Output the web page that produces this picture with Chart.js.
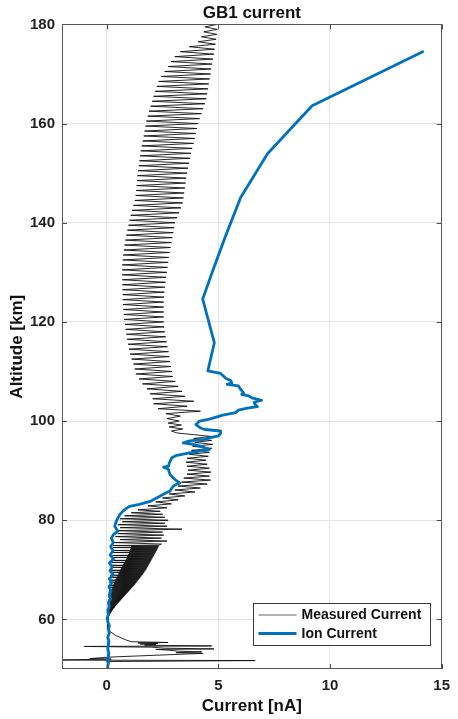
<!DOCTYPE html>
<html>
<head>
<meta charset="utf-8">
<script src="https://cdn.jsdelivr.net/npm/chart.js@4.4.1/dist/chart.umd.min.js"></script>
<style>
  html, body { margin: 0; padding: 0; background: #ffffff; }
  #c { display: block; }
</style>
</head>
<body>
<canvas id="c" width="458" height="719"></canvas>
<script>
// ---------------- DATA ----------------
const chartTitle = 'GB1 current';
const xAxisTitle = 'Current [nA]';
const yAxisTitle = 'Altitude [km]';
const seriesNames = ['Measured Current', 'Ion Current'];

const xTicks = [0, 5, 10, 15];
const yTicks = [60, 80, 100, 120, 140, 160, 180];

// Measured current (spin-modulated probe signal), altitude [km]
const measuredAltitude = [
  181, 180.5, 180, 179.5, 179, 178.5, 178, 177.5, 177, 176.5,
  176, 175.5, 175, 174.5, 174, 173.5, 173, 172.5, 172, 171.5,
  171, 170.5, 170, 169.5, 169, 168.5, 168, 167.5, 167, 166.5,
  166, 165.5, 165, 164.5, 164, 163.5, 163, 162.5, 162, 161.5,
  161, 160.5, 160, 159.5, 159, 158.5, 158, 157.5, 157, 156.5,
  156, 155.5, 155, 154.5, 154, 153.5, 153, 152.5, 152, 151.5,
  151, 150.5, 150, 149.5, 149, 148.5, 148, 147.5, 147, 146.5,
  146, 145.5, 145, 144.5, 144, 143.5, 143, 142.5, 142, 141.5,
  141, 140.5, 140, 139.5, 139, 138.5, 138, 137.5, 137, 136.5,
  136, 135.5, 135, 134.5, 134, 133.5, 133, 132.5, 132, 131.5,
  131, 130.5, 130, 129.5, 129, 128.5, 128, 127.5, 127, 126.5,
  126, 125.5, 125, 124.5, 124, 123.5, 123, 122.5, 122, 121.5,
  121, 120.5, 120, 119.5, 119, 118.5, 118, 117.5, 117, 116.5,
  116, 115.5, 115, 114.5, 114, 113.5, 113, 112.5, 112, 111.5,
  111, 110.5, 110, 109.5, 109, 108.5, 108, 107.5, 107, 106.5,
  106, 105.5, 105, 104.5, 104, 103.5, 103, 102.5, 102, 101.5,
  101, 100.5, 100,
  99.6, 99.2, 98.8, 98.4, 98.0, 97.6, 96.9, 96.5, 96.1, 95.7,
  95.3, 94.9, 94.5, 94.1, 93.7, 93.3, 92.9, 92.5, 92.1, 91.7,
  91.3, 90.9, 90.5, 90.1, 89.7, 89.3, 88.9, 88.5, 88.1, 87.7,
  87.3, 86.9, 86.5, 86.1, 85.7, 85.3, 84.9, 84.5, 84.1, 83.7,
  83.3, 82.9, 82.5, 82.1, 81.8, 81.5, 81.2, 80.9, 80.6, 80.3,
  80.0, 79.7, 79.4, 79.1, 78.8, 78.5, 78.2, 77.9, 77.6, 77.3,
  77.0, 76.7, 76.4, 76.1, 75.8, 75.5, 75.2,
  75.0, 74.9, 74.8, 74.7, 74.6, 74.5, 74.4, 74.3, 74.2, 74.1,
  74.0, 73.9, 73.8, 73.7, 73.6, 73.5, 73.4, 73.3, 73.2, 73.1,
  73.0, 72.9, 72.8, 72.7, 72.6, 72.5, 72.4, 72.3, 72.2, 72.1,
  72.0, 71.9, 71.8, 71.7, 71.6, 71.5, 71.4, 71.3, 71.2, 71.1,
  71.0, 70.9, 70.8, 70.7, 70.6, 70.5, 70.4, 70.3, 70.2, 70.1,
  70.0, 69.9, 69.8, 69.7, 69.6, 69.5, 69.4, 69.3, 69.2, 69.1,
  69.0, 68.9, 68.8, 68.7, 68.6, 68.5, 68.4, 68.3, 68.2, 68.1,
  68.0, 67.9, 67.8, 67.7, 67.6, 67.5, 67.4, 67.3, 67.2, 67.1,
  67.0, 66.9, 66.8, 66.7, 66.6, 66.5, 66.4, 66.3, 66.2, 66.1,
  66.0, 65.9, 65.8, 65.7, 65.6, 65.5, 65.4, 65.3, 65.2, 65.1,
  65.0, 64.9, 64.8, 64.7, 64.6, 64.5, 64.4, 64.3, 64.2, 64.1,
  64.0, 63.9, 63.8, 63.7, 63.6, 63.5, 63.4, 63.3, 63.2, 63.1,
  63.0, 62.9, 62.8, 62.7, 62.6, 62.5, 62.4, 62.3, 62.2, 62.1,
  62.0, 61.9, 61.8, 61.7, 61.6, 61.5, 61.4, 61.3, 61.2, 61.1,
  61.0, 60.7, 60.4,
  60.0, 59.0, 58.2, 57.5, 56.8, 56.2, 55.8, 55.5, 55.35, 55.25,
  55.15, 55.05, 54.95, 54.8, 54.65, 54.55, 54.4, 54.2, 54.05, 53.95,
  53.8, 53.6, 53.45, 53.3, 53.15, 52.4, 52.1, 52.0, 51.8, 51.7,
  51.5, 50.5, 49.5
];
// Measured current [nA]
const measuredCurrent = [
  4.95, 4.45, 4.95, 4.4, 4.95, 4.35, 4.93, 4.25, 4.9, 4.1,
  4.87, 3.7, 4.83, 3.3, 4.8, 3.05, 4.76, 2.88, 4.72, 2.75,
  4.68, 2.6, 4.65, 2.45, 4.61, 2.33, 4.57, 2.25, 4.54, 2.18,
  4.5, 2.1, 4.46, 2.04, 4.4, 1.97, 4.32, 1.9, 4.24, 1.84,
  4.16, 1.78, 4.09, 1.74, 4.04, 1.7, 3.99, 1.66, 3.94, 1.62,
  3.89, 1.57, 3.83, 1.53, 3.78, 1.5, 3.74, 1.47, 3.69, 1.44,
  3.64, 1.41, 3.6, 1.38, 3.56, 1.36, 3.53, 1.34, 3.5, 1.32,
  3.47, 1.3, 3.44, 1.26, 3.4, 1.2, 3.32, 1.14, 3.24, 1.08,
  3.15, 1.03, 3.06, 0.98, 3.02, 0.93, 2.98, 0.88, 2.94, 0.84,
  2.9, 0.8, 2.86, 0.77, 2.82, 0.74, 2.78, 0.72, 2.75, 0.7,
  2.72, 0.7, 2.69, 0.7, 2.66, 0.7, 2.63, 0.7, 2.6, 0.71,
  2.58, 0.72, 2.56, 0.72, 2.55, 0.73, 2.55, 0.75, 2.55, 0.77,
  2.55, 0.79, 2.55, 0.82, 2.57, 0.85, 2.6, 0.88, 2.64, 0.92,
  2.68, 0.96, 2.72, 1.0, 2.77, 1.05, 2.8, 1.12, 2.84, 1.2,
  2.88, 1.26, 2.92, 1.31, 2.95, 1.45, 3.07, 1.6, 3.2, 1.8,
  3.37, 1.95, 3.5, 2.06, 3.9, 2.1, 3.6, 2.3, 4.2, 2.65,
  3.3, 2.7, 3.25,
  2.75, 3.35, 2.8, 3.4, 2.9, 3.15, 4.68, 3.9, 4.7, 3.95,
  4.75, 3.85, 4.7, 3.8, 4.6, 3.7, 4.55, 3.6, 4.45, 3.55,
  4.5, 3.6, 4.6, 3.65, 4.67, 3.6, 4.6, 3.45, 4.65, 3.35,
  4.5, 3.2, 4.2, 3.05, 3.95, 2.8, 3.5, 2.5, 3.2, 2.2,
  2.9, 1.85, 2.7, 1.4, 2.4, 1.1, 2.5, 0.8, 2.6, 0.6,
  2.75, 0.7, 2.6, 0.5, 2.7, 0.6, 3.37, 0.45, 2.5, 0.5,
  2.55, 0.4, 2.45, 0.6, 2.7, 0.35, 2.45,
  2.35, 0.3, 2.33, 1.1, 2.31, 0.28, 2.29, 1.08, 2.27, 1.06,
  2.25, 0.28, 2.22, 1.03, 2.2, 0.26, 2.17, 1.0, 2.15, 0.97,
  2.12, 0.26, 2.1, 0.93, 2.07, 0.25, 2.05, 0.9, 2.02, 0.87,
  2.0, 0.24, 1.98, 0.82, 1.95, 0.22, 1.93, 0.77, 1.9, 0.74,
  1.88, 0.2, 1.85, 0.7, 1.83, 0.19, 1.8, 0.65, 1.78, 0.62,
  1.75, 0.18, 1.72, 0.58, 1.69, 0.17, 1.66, 0.54, 1.63, 0.52,
  1.6, 0.16, 1.56, 0.48, 1.53, 0.15, 1.49, 0.43, 1.46, 0.4,
  1.42, 0.14, 1.39, 0.37, 1.35, 0.13, 1.32, 0.33, 1.28, 0.31,
  1.25, 0.12, 1.21, 0.28, 1.17, 0.11, 1.13, 0.25, 1.09, 0.23,
  1.05, 0.1, 1.01, 0.2, 0.97, 0.09, 0.93, 0.17, 0.89, 0.16,
  0.85, 0.08, 0.81, 0.14, 0.77, 0.07, 0.73, 0.12, 0.69, 0.11,
  0.65, 0.06, 0.61, 0.09, 0.57, 0.06, 0.53, 0.08, 0.49, 0.08,
  0.45, 0.05, 0.42, 0.07, 0.38, 0.05, 0.35, 0.06, 0.31, 0.06,
  0.28, 0.05, 0.25, 0.06, 0.22, 0.05, 0.2, 0.06, 0.17, 0.06,
  0.15, 0.07, 0.1,
  0.06, 0.05, 0.05, 0.17, 0.39, 0.69, 0.9, 1.12, 2.75, 1.4,
  2.3, 1.5, 2.2, 1.7, 4.7, -1.0, 2.0, 2.6, 4.8, 2.2,
  2.8, 3.2, 4.25, 3.1, 4.3, 0.1, -0.75, 0.2, -2.5, 6.65,
  0.1, 0.05, 0.05
];

// Ion current (model), altitude [km]
const ionAltitude = [
  174.5, 163.6, 153.9, 145.1, 137.4, 130.3, 124.6, 115.8, 110.1, 109.6,
  108.6, 108.2, 107.7, 107.4, 107.1, 106.7, 105.7, 105.4, 105.1, 104.7,
  104.2, 103.8, 103.4, 102.9, 102.6, 102.2, 101.7, 101.2, 100.8, 100.4,
  100.0, 99.3, 98.6, 98.3, 98.0, 97.5, 97.0, 96.6, 96.3, 96.0,
  95.6, 95.3, 95.0, 94.6, 94.3, 94.0, 93.6, 93.1, 92.6, 92.0,
  91.5, 90.9, 90.7, 90.4, 90.2, 89.7, 89.2, 88.7, 88.2, 87.5,
  87.2, 86.9, 86.4, 85.9, 85.4, 84.9, 84.3, 83.8, 83.5, 83.2,
  82.8, 82.3, 81.8, 81.1, 80.4, 79.8, 78.8, 77.8, 77.1, 76.4,
  75.5, 74.7, 73.8, 73.0, 72.2, 71.4, 70.6, 69.8, 69.0, 68.2,
  67.4, 66.6, 65.8, 65.0, 64.2, 63.4, 62.6, 61.8, 61.0, 60.2,
  59.5, 58.7, 58.0, 57.2, 56.4, 55.6, 54.8, 54.0, 53.2, 52.4,
  51.8, 51.2, 50.5, 49.8
];
// Ion current [nA]
const ionCurrent = [
  14.15, 9.2, 7.2, 6.0, 5.33, 4.75, 4.3, 4.82, 4.53, 5.1,
  5.35, 5.55, 5.6, 5.4, 5.9, 5.95, 6.13, 6.05, 6.35, 6.5,
  6.94, 6.6, 6.64, 6.75, 6.3, 5.9, 5.77, 5.2, 4.9, 4.6,
  4.16, 4.0, 4.2, 4.4, 5.1, 5.1, 5.0, 4.6, 4.38, 3.72,
  3.43, 3.87, 4.16, 4.4, 4.6, 4.23, 3.72, 3.14, 2.92, 2.85,
  2.8, 2.77, 2.55, 2.72, 2.77, 2.8, 2.84, 2.95, 3.06, 3.28,
  3.1, 2.99, 2.9, 2.84, 2.6, 2.4, 2.15, 1.96, 1.7, 1.46,
  1.02, 0.85, 0.72, 0.58, 0.5, 0.43, 0.36, 0.5, 0.3, 0.21,
  0.3, 0.18, 0.28, 0.15, 0.3, 0.12, 0.25, 0.15, 0.3, 0.12,
  0.22, 0.1, 0.2, 0.12, 0.18, 0.08, 0.12, 0.05, 0.08, 0.02,
  0.06, 0.12, 0.08, 0.12, 0.05, 0.1, 0.08, 0.05, 0.1, 0.08,
  0.02, 0.08, 0.05, 0.06
];

// ---------------- CHART ----------------
const FONT = "'Liberation Sans', Arial, Helvetica, sans-serif";
Chart.defaults.font.family = FONT;
Chart.defaults.color = '#1f1f1f';

const toPoints = (alts, vals) => alts.map((a, i) => ({ x: vals[i], y: a }));

const frameAndLegend = {
  id: 'frameAndLegend',
  afterDatasetsDraw(chart) {
    const { ctx, chartArea: a, scales } = chart;
    const xs = scales.x, ys = scales.y;
    ctx.save();
    // inward tick marks
    ctx.strokeStyle = '#4a4a4a';
    ctx.lineWidth = 1;
    ctx.beginPath();
    xTicks.forEach(v => {
      const px = Math.round(xs.getPixelForValue(v)) + 0.5;
      ctx.moveTo(px, a.bottom); ctx.lineTo(px, a.bottom - 5);
      ctx.moveTo(px, a.top); ctx.lineTo(px, a.top + 5);
    });
    yTicks.forEach(v => {
      const py = Math.round(ys.getPixelForValue(v)) + 0.5;
      ctx.moveTo(a.left, py); ctx.lineTo(a.left + 5, py);
      ctx.moveTo(a.right, py); ctx.lineTo(a.right - 5, py);
    });
    ctx.stroke();
    // axes box
    ctx.strokeStyle = '#555555';
    ctx.strokeRect(Math.round(a.left) + 0.5, Math.round(a.top) + 0.5,
                   Math.round(a.right - a.left) - 1, Math.round(a.bottom - a.top) - 1);

    // legend box (bottom-right, inside the axes)
    const w = 177, h = 42;
    const lx = Math.round(a.right - 12 - w) + 0.5;
    const ly = Math.round(a.bottom - 24 - h) + 0.5;
    ctx.fillStyle = '#ffffff';
    ctx.fillRect(lx, ly, w, h);
    ctx.strokeStyle = '#3a3a3a';
    ctx.lineWidth = 1;
    ctx.strokeRect(lx, ly, w, h);
    const ds = chart.data.datasets;
    const rows = [ly + 11.5, ly + 30];
    ds.forEach((d, i) => {
      ctx.beginPath();
      ctx.strokeStyle = i === 0 ? '#555555' : d.borderColor;
      ctx.lineWidth = i === 0 ? 0.9 : 2.8;
      ctx.moveTo(lx + 5, rows[i]);
      ctx.lineTo(lx + 43, rows[i]);
      ctx.stroke();
      ctx.fillStyle = '#111111';
      ctx.font = 'bold 14px ' + FONT;
      ctx.textBaseline = 'middle';
      ctx.textAlign = 'left';
      ctx.fillText(d.label, lx + 48, rows[i] + 0.5);
    });
    ctx.restore();
  }
};

new Chart(document.getElementById('c'), {
  type: 'scatter',
  data: {
    datasets: [
      {
        label: seriesNames[0],
        data: toPoints(measuredAltitude, measuredCurrent),
        showLine: true,
        borderColor: '#111111',
        borderWidth: 0.9,
        pointRadius: 0,
        pointHoverRadius: 0,
        tension: 0,
        order: 1
      },
      {
        label: seriesNames[1],
        data: toPoints(ionAltitude, ionCurrent),
        showLine: true,
        borderColor: '#0072BD',
        borderWidth: 2.8,
        borderJoinStyle: 'round',
        borderCapStyle: 'round',
        pointRadius: 0,
        pointHoverRadius: 0,
        tension: 0,
        order: 0
      }
    ]
  },
  options: {
    responsive: false,
    animation: false,
    devicePixelRatio: 1,
    layout: { padding: { left: 0, right: 8, top: 0, bottom: 0 } },
    plugins: {
      legend: { display: false },
      tooltip: { enabled: false },
      title: {
        display: true,
        text: chartTitle,
        fullSize: false,
        color: '#111111',
        font: { size: 17, weight: 'bold', lineHeight: 1.2 },
        padding: { top: 3, bottom: 1 }
      }
    },
    scales: {
      x: {
        type: 'linear',
        min: -2, max: 15,
        afterBuildTicks: s => { s.ticks = xTicks.map(v => ({ value: v })); },
        afterFit: s => { s.height = 50; },
        grid: { color: '#e4e4e4', lineWidth: 1, drawTicks: false },
        border: { display: false },
        ticks: { padding: 8, color: '#1f1f1f', font: { size: 15, weight: 'bold', lineHeight: 1.2 }, maxRotation: 0 },
        title: {
          display: true, text: xAxisTitle, color: '#111111',
          font: { size: 17, weight: 'bold', lineHeight: 1.2 },
          padding: { top: 0, bottom: 2 }
        }
      },
      y: {
        type: 'linear',
        min: 50, max: 180,
        afterBuildTicks: s => { s.ticks = yTicks.map(v => ({ value: v })); },
        afterFit: s => { s.width = 62; },
        grid: { color: '#e4e4e4', lineWidth: 1, drawTicks: false },
        border: { display: false },
        ticks: { padding: 7, color: '#1f1f1f', font: { size: 15, weight: 'bold', lineHeight: 1.2 } },
        title: {
          display: true, text: yAxisTitle, color: '#111111',
          font: { size: 17, weight: 'bold', lineHeight: 1.2 },
          padding: { top: 7, bottom: 0 }
        }
      }
    }
  },
  plugins: [frameAndLegend]
});
</script>
</body>
</html>
